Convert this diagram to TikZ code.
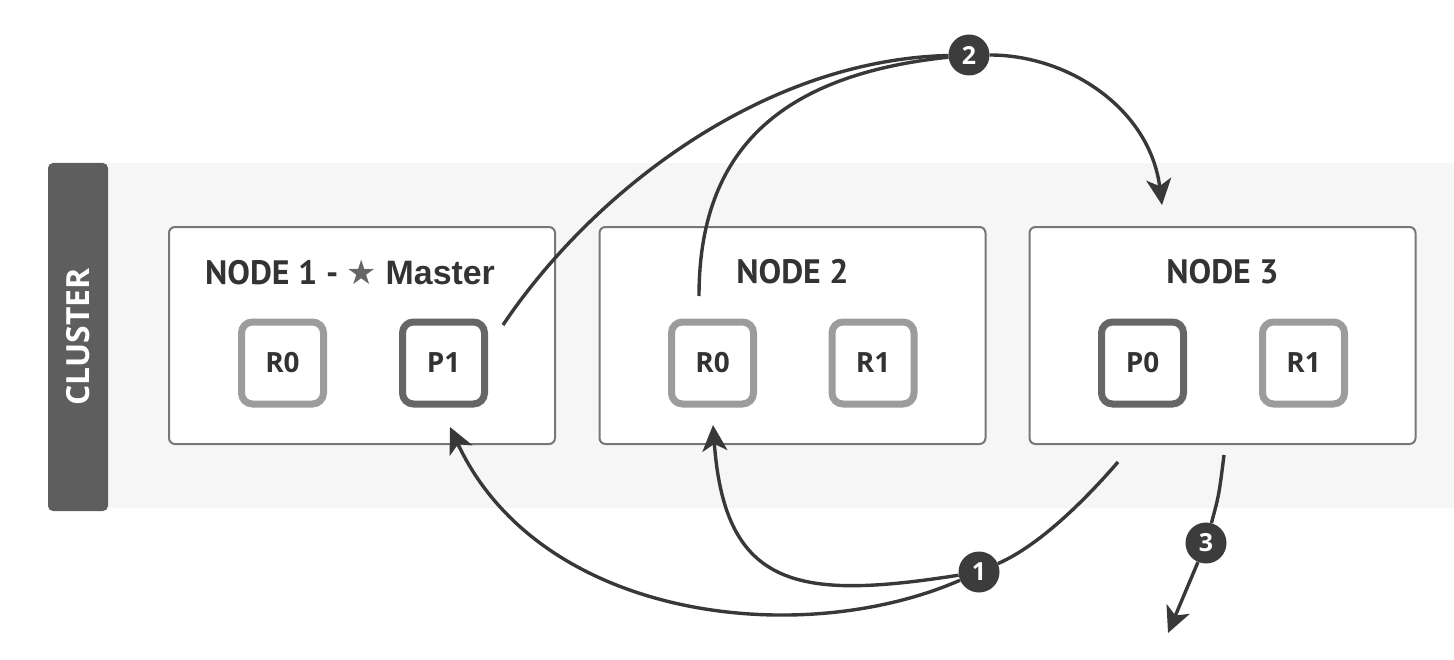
\documentclass[tikz,border=0pt]{standalone}
\usepackage{fontspec}
\setmainfont{Open Sans}
\newfontfamily\titlefont{PT Sans}
\newfontfamily\arialfont{Liberation Sans}
\newfontfamily\symfont{DejaVu Sans}
\usetikzlibrary{arrows.meta}
\definecolor{bandgray}{HTML}{F6F6F6}
\definecolor{bargray}{HTML}{5E5E5E}
\definecolor{boxgray}{HTML}{777777}
\definecolor{shardlight}{HTML}{9C9C9C}
\definecolor{sharddark}{HTML}{666666}
\definecolor{textdark}{HTML}{333333}
\definecolor{stargray}{HTML}{666666}
\definecolor{arrowgray}{HTML}{383838}
\definecolor{badgegray}{HTML}{3C3C3C}
\tikzset{
  nodebox/.style={draw=boxgray, line width=2bp, fill=white, rounded corners=6bp,
    minimum width=386bp, minimum height=217bp, inner sep=0pt},
  shardR/.style={draw=shardlight, line width=7bp, fill=white, rounded corners=11bp,
    minimum size=82bp, inner sep=0pt, text=textdark,
    font=\bfseries\fontsize{28}{30}\selectfont},
  shardP/.style={shardR, draw=sharddark},
  nodetitle/.style={text=textdark, inner sep=0pt,
    font=\titlefont\bfseries\fontsize{34}{36}\selectfont},
  badge/.style={circle, fill=badgegray, minimum size=41bp, inner sep=0pt, text=white,
    font=\bfseries\fontsize{25}{25}\selectfont},
  flow/.style={draw=arrowgray, line width=3.4bp},
  tipped/.style={-{Stealth[length=26bp,width=25bp,inset=7bp]}},
}
\begin{document}
\begin{tikzpicture}[x=1bp,y=-1bp]
\useasboundingbox (0,0) rectangle (1454,660);
% faint band
\fill[bandgray] (108,163) rectangle (1454,508);
% cluster bar
\node[rotate=90, fill=bargray, rounded corners=5bp, minimum width=348bp, minimum height=60bp,
  inner sep=0pt, text=white, font=\bfseries\fontsize{32}{34}\selectfont] (cluster) at (78,337) {CLUSTER};
% node boxes
\node[nodebox] (n1) at (362,335.5) {};
\node[nodebox] (n2) at (792.5,335.5) {};
\node[nodebox] (n3) at (1222.5,335.5) {};
% titles
\node[nodetitle, anchor=base] (t1lbl) at (350,284) {NODE 1 - {\symfont\color{stargray}\fontsize{34}{36}\selectfont ★} {\arialfont\bfseries Master}};
\node[nodetitle, anchor=base] (t2lbl) at (792.5,283) {NODE 2};
\node[nodetitle, anchor=base] (t3lbl) at (1222.5,283) {NODE 3};
% shards
\node[shardR] (n1r0) at (282.5,363) {R0};
\node[shardP] (n1p1) at (443.5,363) {P1};
\node[shardR] (n2r0) at (712.5,363) {R0};
\node[shardR] (n2r1) at (873,363) {R1};
\node[shardP] (n3p0) at (1142.5,363) {P0};
\node[shardR] (n3r1) at (1303.5,363) {R1};
% badges
\node[badge] (c1) at (979,572) {1};
\node[badge] (c2) at (969,55) {2};
\node[badge] (c3) at (1206,543) {3};
% free ends
\coordinate (s1) at (1118,462);
\coordinate (s2) at (503,325);
\coordinate (s3) at (699,296);
\coordinate (s4) at (1224,455);
\coordinate (e1) at (713,425);
\coordinate (e2) at (450,427);
\coordinate (e3) at (1162,205);
\coordinate (e4) at (1168,633);
% connectors
\draw[flow] (s1) .. controls (1085,500) and (1040,545) .. (c1);
\draw[flow,tipped] (c1) .. controls (800,600) and (725,590) .. (e1);
\draw[flow,tipped] (c1) .. controls (800,650) and (540,620) .. (e2);
\draw[flow] (s2) .. controls (590,195) and (760,60) .. (c2);
\draw[flow] (s3) .. controls (699,150) and (780,75) .. (c2);
\draw[flow,tipped] (c2) .. controls (1070,55) and (1150,110) .. (e3);
\draw[flow] (s4) .. controls (1219,495) .. (c3);
\draw[flow,tipped] (c3) -- (e4);
\end{tikzpicture}
\end{document}
